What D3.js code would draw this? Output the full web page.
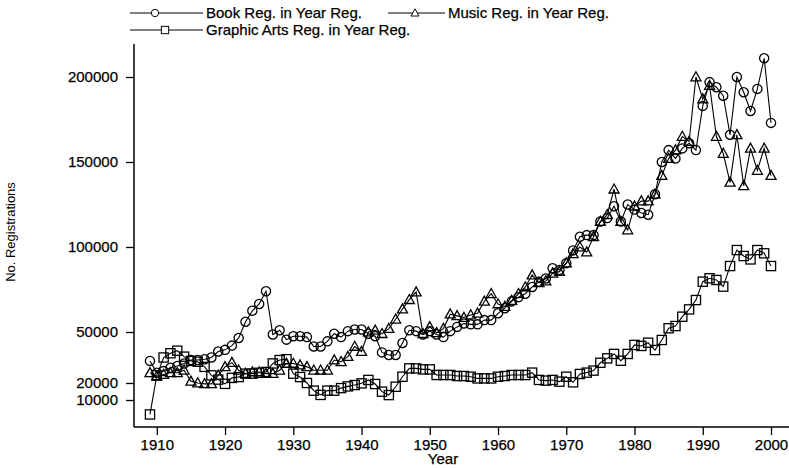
<!DOCTYPE html>
<html>
<head>
<meta charset="utf-8">
<script src="https://cdn.jsdelivr.net/npm/d3@7/dist/d3.min.js"></script>
<style>
  html, body { margin: 0; padding: 0; background: #fff; }
  svg { display: block; }
  text { font-family: "Liberation Sans", Arial, Helvetica, sans-serif; fill: #000; }
</style>
</head>
<body>
<svg id="chart" width="789" height="468"></svg>
<script>
'use strict';

// Registrations by year of registration
var years = [
  1909, 1910, 1911, 1912, 1913, 1914, 1915, 1916, 1917, 1918, 1919,
  1920, 1921, 1922, 1923, 1924, 1925, 1926, 1927, 1928, 1929,
  1930, 1931, 1932, 1933, 1934, 1935, 1936, 1937, 1938, 1939,
  1940, 1941, 1942, 1943, 1944, 1945, 1946, 1947, 1948, 1949,
  1950, 1951, 1952, 1953, 1954, 1955, 1956, 1957, 1958, 1959,
  1960, 1961, 1962, 1963, 1964, 1965, 1966, 1967, 1968, 1969,
  1970, 1971, 1972, 1973, 1974, 1975, 1976, 1977, 1978, 1979,
  1980, 1981, 1982, 1983, 1984, 1985, 1986, 1987, 1988, 1989,
  1990, 1991, 1992, 1993, 1994, 1995, 1996, 1997, 1998, 1999, 2000
];

var bookReg = [
  33000, 26000, 27000, 29000, 30000, 31500, 33500, 33500, 34000, 35000, 38500,
  39500, 42000, 46500, 56000, 62500, 66500, 74000, 48500, 51000, 45500,
  47500, 47500, 47000, 41500, 41500, 44500, 49000, 47000, 50500, 51500,
  51500, 49000, 47500, 38000, 36500, 36500, 43500, 51000, 50500, 48500,
  50500, 48500, 47000, 50500, 53000, 55000, 54500, 54500, 57000, 57000,
  61000, 64000, 68000, 70500, 72500, 76500, 79500, 81500, 87500, 86500,
  90500, 98000, 106000, 107000, 107000, 115000, 117000, 124000, 115000, 125000,
  122000, 120000, 119000, 131000, 150000, 157000, 152000, 158000, 161000, 157000,
  183000, 197000, 194000, 189000, 166000, 200000, 191000, 180000, 193000, 211000, 173000
];

var musicReg = [
  26000, 24000, 25000, 26000, 26000, 27500, 21000, 20000, 19500, 19500, 24500,
  29500, 32000, 27500, 25500, 26500, 26500, 25500, 25500, 27500, 31500,
  31500, 30500, 29500, 27500, 27500, 27500, 33500, 32500, 35500, 41500,
  38500, 50000, 51000, 49000, 52000, 57500, 63500, 69000, 73500, 49000,
  53000, 49500, 52000, 60500, 59500, 58500, 60000, 61000, 68000, 72500,
  66500, 65000, 68500, 72500, 76500, 83500, 79000, 80000, 84500, 85500,
  90500, 96000, 100000, 97000, 106000, 115000, 119000, 134000, 115000, 110000,
  124000, 127000, 127000, 131000, 142000, 152000, 157000, 165000, 162000, 200000,
  187000, 195000, 165000, 155000, 138000, 166000, 136000, 158000, 145000, 158000, 142000
];

var graphicReg = [
  1500, 24500, 35000, 37500, 39000, 35500, 33000, 32500, 29500, 24500, 22000,
  19500, 23000, 23500, 25500, 25500, 26000, 26500, 31500, 33500, 34000,
  25500, 23500, 20000, 15500, 13000, 15500, 15500, 17000, 18000, 18800,
  19800, 21800, 19400, 14900, 12900, 17800, 23700, 28600, 28600, 28000,
  28000, 24700, 24700, 24700, 24100, 24100, 23700, 22700, 22700, 22700,
  23700, 24100, 24700, 24700, 24700, 26100, 21800, 21400, 21800, 20800,
  23700, 20400, 25300, 26100, 27300, 31900, 34500, 37100, 33100, 37100,
  42400, 41800, 43700, 39400, 45300, 52200, 53500, 59000, 63300, 68800,
  79600, 81600, 80600, 76700, 88800, 98200, 94700, 92700, 98200, 96300, 88800
];

var xTicks = [1910, 1920, 1930, 1940, 1950, 1960, 1970, 1980, 1990, 2000];
var yTicks = [10000, 20000, 50000, 100000, 150000, 200000];

var seriesNames = [
  'Book Reg. in Year Reg.',
  'Music Reg. in Year Reg.',
  'Graphic Arts Reg. in Year Reg.'
];

var svg = d3.select('#chart');

var x = d3.scaleLinear().domain([1910, 2000]).range([156.8, 771]);
var y = d3.scaleLinear().domain([0, 200000]).range([417, 77]);

var axisX0 = 134, axisY0 = 427;

// marker drawers, all hollow
var markers = {
  circle: function(g) {
    g.append('circle').attr('r', 4.6);
  },
  triangle: function(g) {
    g.append('path').attr('d', 'M0,-5.2L5,3.8L-5,3.8Z');
  },
  square: function(g) {
    g.append('rect').attr('x', -4.6).attr('y', -4.6).attr('width', 9.2).attr('height', 9.2);
  }
};

var series = [
  { name: seriesNames[0], values: bookReg, marker: 'circle' },
  { name: seriesNames[1], values: musicReg, marker: 'triangle' },
  { name: seriesNames[2], values: graphicReg, marker: 'square' }
];

// axes
var yAxis = d3.axisLeft(y).tickValues(yTicks).tickSize(8).tickSizeOuter(0).tickPadding(8)
  .tickFormat(d3.format('d'));
var xAxis = d3.axisBottom(x).tickValues(xTicks).tickSize(8).tickSizeOuter(0).tickPadding(4)
  .tickFormat(d3.format('d'));

var gy = svg.append('g').attr('transform', 'translate(' + axisX0 + ',0)').call(yAxis);
var gx = svg.append('g').attr('transform', 'translate(0,' + axisY0 + ')').call(xAxis);

[gy, gx].forEach(function(g) {
  g.select('.domain').remove();
  g.selectAll('line').attr('stroke', '#000').attr('stroke-width', 1.3);
  g.selectAll('text').attr('font-size', 15).attr('font-family', '"Liberation Sans", Arial, sans-serif')
    .attr('stroke', '#000').attr('stroke-width', 0.25);
});

svg.append('line')
  .attr('x1', axisX0).attr('x2', axisX0).attr('y1', 44).attr('y2', axisY0)
  .attr('stroke', '#000').attr('stroke-width', 1.5);
svg.append('line')
  .attr('x1', axisX0).attr('x2', 789).attr('y1', axisY0).attr('y2', axisY0)
  .attr('stroke', '#000').attr('stroke-width', 1.5);

svg.append('text')
  .attr('x', 443).attr('y', 464)
  .attr('text-anchor', 'middle').attr('font-size', 15)
  .attr('stroke', '#000').attr('stroke-width', 0.25)
  .text('Year');

svg.append('text')
  .attr('transform', 'translate(15,232) rotate(-90)')
  .attr('text-anchor', 'middle').attr('font-size', 13)
  .text('No. Registrations');

// lines and markers
var line = d3.line()
  .x(function(d) { return x(d[0]); })
  .y(function(d) { return y(d[1]); });

series.forEach(function(s) {
  var pts = years.map(function(yr, i) { return [yr, s.values[i]]; });

  svg.append('path')
    .datum(pts)
    .attr('d', line)
    .attr('fill', 'none')
    .attr('stroke', '#000')
    .attr('stroke-width', 1.1);

  var g = svg.append('g')
    .attr('fill', 'none')
    .attr('stroke', '#000')
    .attr('stroke-width', 1.3);

  g.selectAll('g.pt')
    .data(pts)
    .enter().append('g')
    .attr('class', 'pt')
    .attr('transform', function(d) { return 'translate(' + x(d[0]) + ',' + y(d[1]) + ')'; })
    .each(function() { markers[s.marker](d3.select(this)); });
});

// legend
var legendItems = [
  { s: series[0], x1: 130, x2: 203, mx: 155, ly: 13, tx: 206 },
  { s: series[1], x1: 388, x2: 445, mx: 415, ly: 13, tx: 448 },
  { s: series[2], x1: 130, x2: 203, mx: 165, ly: 30, tx: 206 }
];

legendItems.forEach(function(it) {
  var lg = svg.append('g');
  lg.append('line')
    .attr('x1', it.x1).attr('x2', it.x2).attr('y1', it.ly).attr('y2', it.ly)
    .attr('stroke', '#000').attr('stroke-width', 1.1);
  var m = lg.append('g')
    .attr('transform', 'translate(' + it.mx + ',' + it.ly + ')')
    .attr('fill', '#fff').attr('stroke', '#000').attr('stroke-width', 1.2);
  markers[it.s.marker](m);
  m.select('*').attr('transform', 'scale(0.8)');
  lg.append('text')
    .attr('x', it.tx).attr('y', it.ly + 5)
    .attr('font-size', 15)
    .attr('stroke', '#000').attr('stroke-width', 0.25)
    .text(it.s.name);
});
</script>
</body>
</html>
